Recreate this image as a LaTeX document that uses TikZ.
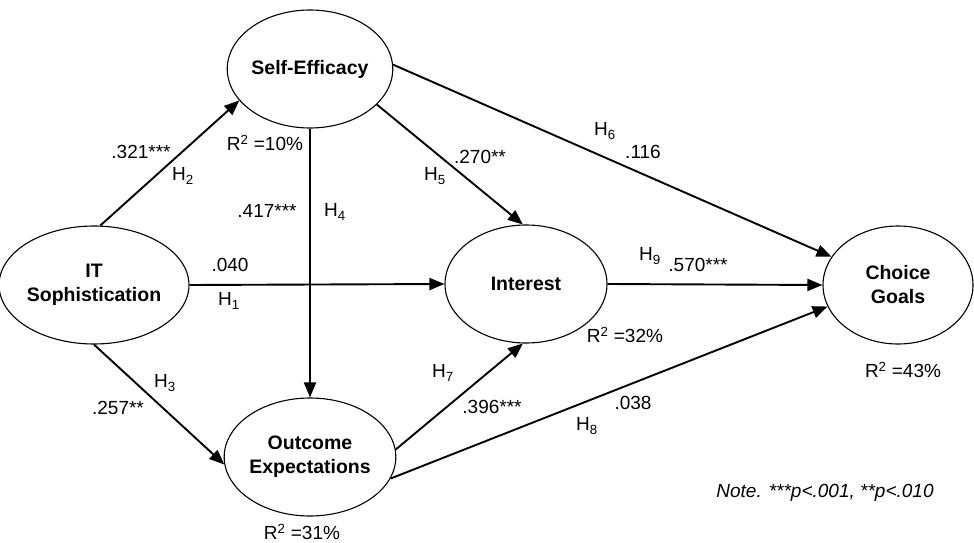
\documentclass[tikz,border=0pt]{standalone}
\usepackage{fontspec}
\setmainfont{Liberation Sans}
\usetikzlibrary{shapes.geometric,arrows.meta}

\begin{document}
\begin{tikzpicture}[x=1pt,y=-1pt,
    construct/.style={draw,ellipse,line width=1.1pt,minimum width=162pt,minimum height=118pt,inner sep=0pt,align=center,font=\fontsize{19.5}{24}\selectfont\bfseries},
    arr/.style={-{Triangle[length=15pt,width=12pt]},line width=1.9pt},
    lbl/.style={inner sep=0pt,font=\fontsize{19}{22}\selectfont}]

    \useasboundingbox (0,0) rectangle (974,543);

    \node[construct] (it) at (94,285) {IT\\Sophistication};
    \node[construct] (se) at (310,69) {Self-Efficacy};
    \node[construct] (oe) at (310,457) {Outcome\\Expectations};
    \node[construct] (int) at (526,284) {Interest};
    \node[construct,minimum width=150pt] (cg) at (898,285) {Choice\\Goals};

    \draw[arr] (it.84) -- (se.204);
    \draw[arr] (it.east) -- (int.west);
    \draw[arr] (it.south) -- (oe.185);
    \draw[arr] (se.south) -- (oe.north);
    \draw[arr] (se.332) -- (int.93);
    \draw[arr] (se.3) -- (cg.157);
    \draw[arr] (int.east) -- (cg.west);
    \draw[arr] (oe.5) -- (int.267);
    \draw[arr] (oe.345) -- (cg.197);

    \node[lbl] (c321) at (141,152) {.321***};
    \node[lbl] (h2) at (183,176) {H\textsubscript{2}};
    \node[lbl] (rse) at (265,143) {R\textsuperscript{2} =10\%};
    \node[lbl] (c417) at (267,211) {.417***};
    \node[lbl] (h4) at (335,212) {H\textsubscript{4}};
    \node[lbl] (c040) at (230,265) {.040};
    \node[lbl] (h1) at (229,301) {H\textsubscript{1}};
    \node[lbl] (h5) at (435,176) {H\textsubscript{5}};
    \node[lbl] (c270) at (480,157) {.270**};
    \node[lbl] (h6) at (605,131) {H\textsubscript{6}};
    \node[lbl] (c116) at (643,152) {.116};
    \node[lbl] (h9) at (650,256) {H\textsubscript{9}};
    \node[lbl] (c570) at (698,265) {.570***};
    \node[lbl] (h3) at (165,383) {H\textsubscript{3}};
    \node[lbl] (c257) at (118,408) {.257**};
    \node[lbl] (roe) at (302,532) {R\textsuperscript{2} =31\%};
    \node[lbl] (h7) at (443,373) {H\textsubscript{7}};
    \node[lbl] (c396) at (492,407) {.396***};
    \node[lbl] (rint) at (625,335) {R\textsuperscript{2} =32\%};
    \node[lbl] (rcg) at (903,370) {R\textsuperscript{2} =43\%};
    \node[lbl] (c038) at (633,403) {.038};
    \node[lbl] (h8) at (587,426) {H\textsubscript{8}};
    \node[lbl,font=\fontsize{19}{22}\selectfont\itshape] (note) at (825,493) {Note. ***p<.001, **p<.010};
\end{tikzpicture}
\end{document}
